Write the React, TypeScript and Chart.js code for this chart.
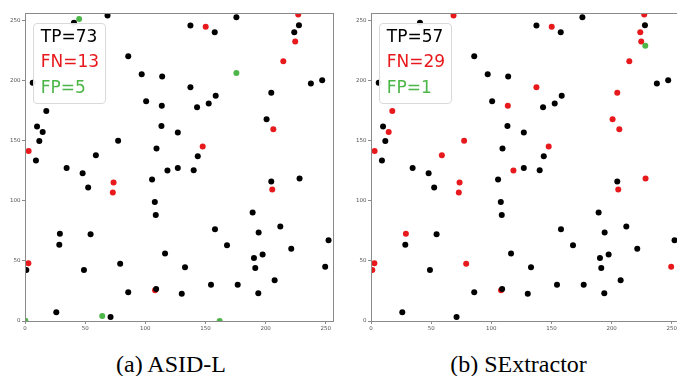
import React, { useEffect, useRef } from "react";
import { Chart, registerables } from "chart.js";

Chart.register(...registerables);

type Pt = [number, number];

const tickValues = [0, 50, 100, 150, 200, 250];
const axisMax = 256;

// (a) ASID-L
const asidTP: Pt[] = [
  [40.7, 248], [68.6, 254], [85.8, 220], [6.4, 198], [97, 205], [114, 203.3], [100.7, 182.6], [113.7, 179],
  [17.7, 174.5], [10, 161.6], [14.7, 157], [113.4, 162], [11.9, 149.6], [77.4, 149.9], [109.3, 143.3], [9.1, 133.3],
  [58.9, 137.8], [34.6, 127.2], [118.4, 125], [137.5, 245.6], [157.7, 240], [175.7, 252.5], [227.7, 245.9], [223.8, 240],
  [237.6, 197.5], [247, 200.2], [137.5, 194.2], [204.7, 189.8], [158.5, 187.3], [152.7, 180.7], [143, 177.6], [200.8, 167.6],
  [127, 156.6], [143.6, 136.9], [127, 127.2], [140.2, 125.3], [204.7, 116], [228.2, 118.4], [189.2, 90.2], [157.9, 76.3],
  [212.2, 78.6], [194.2, 73.6], [252.3, 67.2], [167.9, 63], [221.3, 60], [116.4, 56.2], [197.5, 55.3], [190.3, 52.3],
  [133, 44.6], [191.4, 44], [249.5, 45.1], [207.5, 33.8], [154.6, 30.1], [176.8, 30.1], [130.3, 22.7], [193.9, 23],
  [47.9, 122.8], [52.5, 111], [105.6, 117.6], [107.9, 99], [108.7, 88.2], [29, 72.5], [54.5, 72.2], [28.5, 63.3],
  [1.1, 42.3], [49, 42.3], [79.1, 47.6], [85.8, 23.8], [109, 26.6], [26, 7.2], [71.1, 3.3],
];
const asidFN: Pt[] = [
  [3, 141.3], [150.2, 244.6], [227.1, 254.8], [224.6, 232.4], [214.7, 215.8], [206.4, 159.3], [147.7, 145],
  [205.5, 109.3], [73.6, 115.1], [73, 106.8], [2.8, 47.9], [108.1, 25.5],
];
const asidFP: Pt[] = [[45, 251], [175.7, 206.1], [161.8, 0], [64.2, 4.1], [0.3, 0.2]];

// (b) SExtractor
const sexTP: Pt[] = [
  [40.7, 248], [85.8, 220], [6.4, 198], [97, 205], [114, 203.3], [100.7, 182.6], [10, 161.6], [113.4, 162],
  [11.9, 149.6], [109.3, 143.3], [9.1, 133.3], [34.6, 127.2], [137.5, 245.6], [157.7, 240], [175.7, 252.5], [227.7, 245.9],
  [237.6, 197.5], [247, 200.2], [158.5, 187.3], [152.7, 180.7], [143, 177.6], [127, 156.6], [143.6, 136.9], [127, 127.2],
  [140.2, 125.3], [204.7, 116], [189.2, 90.2], [157.9, 76.3], [212.2, 78.6], [194.2, 73.6], [252.3, 67.2], [167.9, 63],
  [221.3, 60], [116.4, 56.2], [197.5, 55.3], [190.3, 52.3], [133, 44.6], [191.4, 44], [207.5, 33.8], [154.6, 30.1],
  [176.8, 30.1], [130.3, 22.7], [193.9, 23], [47.9, 122.8], [52.5, 111], [105.6, 117.6], [107.9, 99], [108.7, 88.2],
  [54.5, 72.2], [28.5, 63.3], [49, 42.3], [85.8, 23.8], [109, 26.6], [26, 7.2], [71.1, 3.3],
];
const sexFN: Pt[] = [
  [68.6, 254], [113.7, 179], [17.7, 174.5], [14.7, 157], [77.4, 149.9], [3, 141.3], [58.9, 137.8], [118.4, 125],
  [150.2, 244.6], [227.1, 254.8], [223.8, 240], [224.6, 232.4], [214.7, 215.8], [137.5, 194.2], [204.7, 189.8],
  [200.8, 167.6], [206.4, 159.3], [147.7, 145], [205.5, 109.3], [228.2, 118.4], [249.5, 45.1], [73.6, 115.1],
  [73, 106.8], [29, 72.5], [2.8, 47.9], [1.1, 42.3], [79.1, 47.6], [108.1, 25.5],
];
const sexFP: Pt[] = [[228, 228.8]];

const asidLabels = ["TP=73", "FN=13", "FP=5"];
const sexLabels = ["TP=57", "FN=29", "FP=1"];
const captions = ["(a) ASID-L", "(b) SExtractor"];

const BLACK = "#000000";
const RED = "#e8191c";
const GREEN = "#4cb648";
const AXIS = "#8a8a8a";

const framePlugin = {
  id: "frame",
  afterDraw(chart: any) {
    const { ctx, chartArea } = chart;
    ctx.save();
    ctx.strokeStyle = AXIS;
    ctx.lineWidth = 1;
    ctx.strokeRect(chartArea.left + 0.5, chartArea.top + 0.5, chartArea.right - chartArea.left, chartArea.bottom - chartArea.top);
    ctx.restore();
  },
};

function Panel({ tp, fn, fp, left }: { tp: Pt[]; fn: Pt[]; fp: Pt[]; left: number }) {
  const ref = useRef<HTMLCanvasElement>(null);
  useEffect(() => {
    const toXY = (a: Pt[]) => a.map(([x, y]) => ({ x, y }));
    const ds = (data: Pt[], color: string) => ({
      data: toXY(data),
      backgroundColor: color,
      borderColor: color,
      borderWidth: 0,
      pointRadius: 3,
      pointHoverRadius: 3,
      clip: 0,
    });
    const axis = (isY: boolean) => ({
      type: "linear" as const,
      min: 0,
      max: axisMax,
      afterBuildTicks: (scale: any) => {
        scale.ticks = tickValues.map((v) => ({ value: v }));
      },
      afterFit: (scale: any) => {
        if (isY) scale.width = 25;
        else scale.height = 19;
      },
      ticks: {
        includeBounds: false,
        font: { family: "DejaVu Sans", size: 5.5 },
        color: "#555",
        padding: 1.5,
        maxRotation: 0,
      },
      grid: { display: true, drawOnChartArea: false, drawTicks: true, tickLength: 3, color: AXIS },
      border: { display: true, color: AXIS },
    });
    const chart = new Chart(ref.current!, {
      type: "scatter",
      data: { datasets: [ds(tp, BLACK), ds(fp, GREEN), ds(fn, RED)] },
      options: {
        animation: false,
        responsive: false,
        maintainAspectRatio: false,
        layout: { padding: { top: 13, left: 0, right: 12, bottom: 0 } },
        plugins: { legend: { display: false }, tooltip: { enabled: false } },
        scales: { x: axis(false), y: axis(true) },
      },
      plugins: [framePlugin],
    });
    return () => chart.destroy();
  }, []);
  return (
    <canvas
      ref={ref}
      width={345}
      height={340}
      style={{ position: "absolute", left, top: 0, width: 345, height: 340 }}
    />
  );
}

function LegendBox({ left, labels }: { left: number; labels: string[] }) {
  const colors = [BLACK, RED, GREEN];
  const baselines = [42.7, 67.7, 93.3];
  return (
    <>
      <div
        style={{
          position: "absolute",
          left,
          top: 22.5,
          width: 73,
          height: 81,
          border: "1px solid #d9d9d9",
          borderRadius: 4,
          background: "rgba(255,255,255,0.92)",
          boxSizing: "border-box",
        }}
      />
      {labels.map((t, i) => (
        <div
          key={t}
          style={{
            position: "absolute",
            left: left + 7.5,
            top: baselines[i] - 14.4,
            fontFamily: "DejaVu Sans",
            fontSize: 17,
            lineHeight: "17px",
            color: colors[i],
            whiteSpace: "nowrap",
          }}
        >
          {t}
        </div>
      ))}
    </>
  );
}

export default function App() {
  const capCenters = [171, 518.5];
  return (
    <div
      style={{
        position: "fixed",
        left: 0,
        top: 0,
        width: 677,
        height: 376,
        overflow: "hidden",
        background: "#fff",
      }}
    >
      <Panel tp={asidTP} fn={asidFN} fp={asidFP} left={0} />
      <Panel tp={sexTP} fn={sexFN} fp={sexFP} left={346} />
      <LegendBox left={33.3} labels={asidLabels} />
      <LegendBox left={379.3} labels={sexLabels} />
      {captions.map((c, i) => (
        <div
          key={c}
          style={{
            position: "absolute",
            left: capCenters[i] - 100,
            width: 200,
            top: 352,
            textAlign: "center",
            fontFamily: "Liberation Serif",
            fontSize: 24,
            lineHeight: "24px",
            color: "#000",
            whiteSpace: "nowrap",
          }}
        >
          {c}
        </div>
      ))}
    </div>
  );
}
